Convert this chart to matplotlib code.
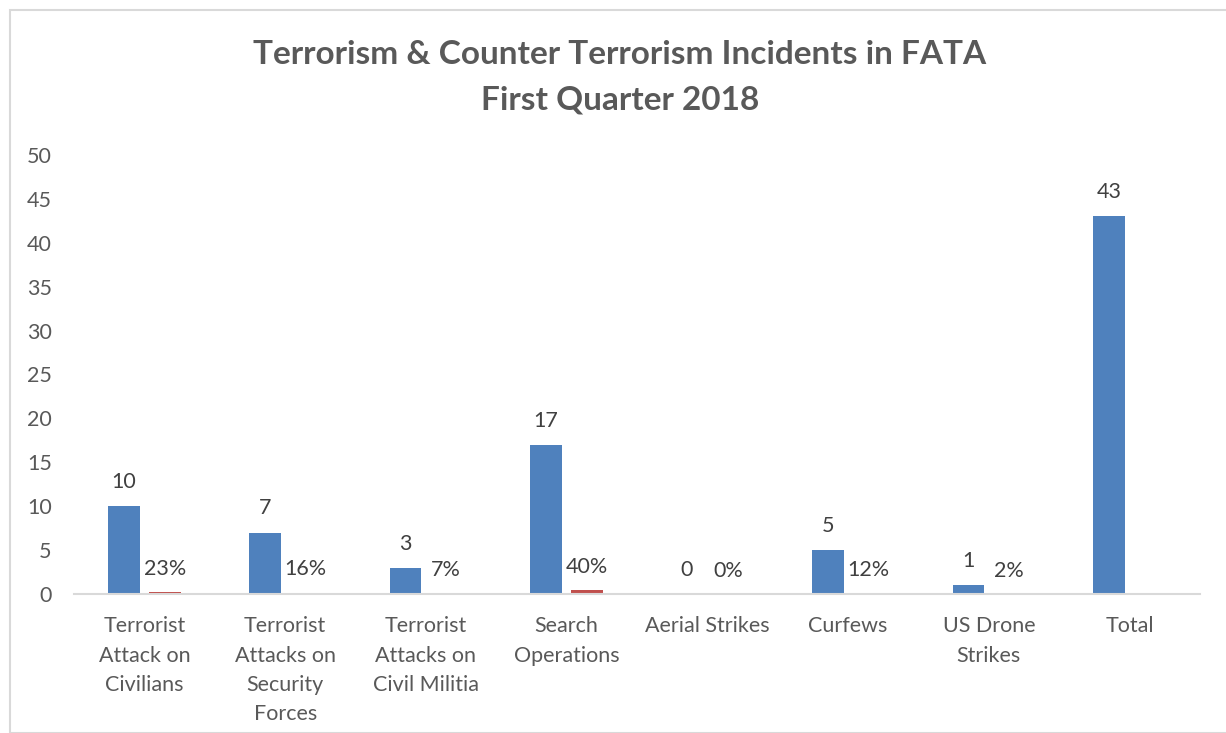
import matplotlib
matplotlib.use("Agg")
import matplotlib.pyplot as plt
from matplotlib.patches import Rectangle
import numpy as np

categories = ["Terrorist\nAttack on\nCivilians", "Terrorist\nAttacks on\nSecurity\nForces",
              "Terrorist\nAttacks on\nCivil Militia", "Search\nOperations", "Aerial Strikes",
              "Curfews", "US Drone\nStrikes", "Total"]
counts = [10, 7, 3, 17, 0, 5, 1, 43]
shares = [0.23, 0.16, 0.07, 0.40, 0.0, 0.12, 0.02, np.nan]
share_labels = ["23%", "16%", "7%", "40%", "0%", "12%", "2%", ""]
title_lines = ["Terrorism & Counter Terrorism Incidents in FATA", "First Quarter 2018"]

plt.rcParams['font.family'] = ['Lato', 'DejaVu Sans']

fig = plt.figure(figsize=(12.26, 7.33), dpi=100)
fig.patches.append(Rectangle((10/1226, 0), 1.2, 1 - 10/733, transform=fig.transFigure,
                             fill=False, edgecolor='#d9d9d9', linewidth=1.5))
ax = fig.add_axes([74/1226, 1 - 594/733, (1200-74)/1226, (594-155)/733])

x = np.arange(len(categories))
w = 0.225
off = 0.145
blue = '#4F81BD'
red = '#C0504D'
ax.bar(x - off, counts, width=w, color=blue)
ax.bar(x + off, shares, width=w, color=red)

fs = 15.5
for xi, c in zip(x, counts):
    ax.text(xi - off, c + 1.6, str(c), ha='center', va='bottom', fontsize=fs, color='#404040')
for xi, s, lab in zip(x, shares, share_labels):
    if lab:
        ax.text(xi + off, s + 1.5, lab, ha='center', va='bottom', fontsize=fs, color='#404040')

ax.set_xlim(-0.5, len(categories) - 0.5)
ax.set_ylim(0, 50)
ax.set_yticks(range(0, 51, 5))
ax.set_xticks(x)
ax.set_xticklabels(categories, fontsize=fs, color='#595959', linespacing=1.58, va='top')
ax.tick_params(axis='y', length=0, pad=16, labelsize=fs, labelcolor='#595959')
ax.tick_params(axis='x', length=0, pad=16)
for s in ['top', 'right', 'left']:
    ax.spines[s].set_visible(False)
ax.spines['bottom'].set_color('#d9d9d9')
ax.spines['bottom'].set_linewidth(1.5)

fig.text(620/1226, 1 - 55/733, title_lines[0],
         ha='center', va='center', fontsize=24, fontweight='bold', color='#595959')
fig.text(620/1226, 1 - 100/733, title_lines[1],
         ha='center', va='center', fontsize=24, fontweight='bold', color='#595959')

fig.savefig("out.png", dpi=100)
